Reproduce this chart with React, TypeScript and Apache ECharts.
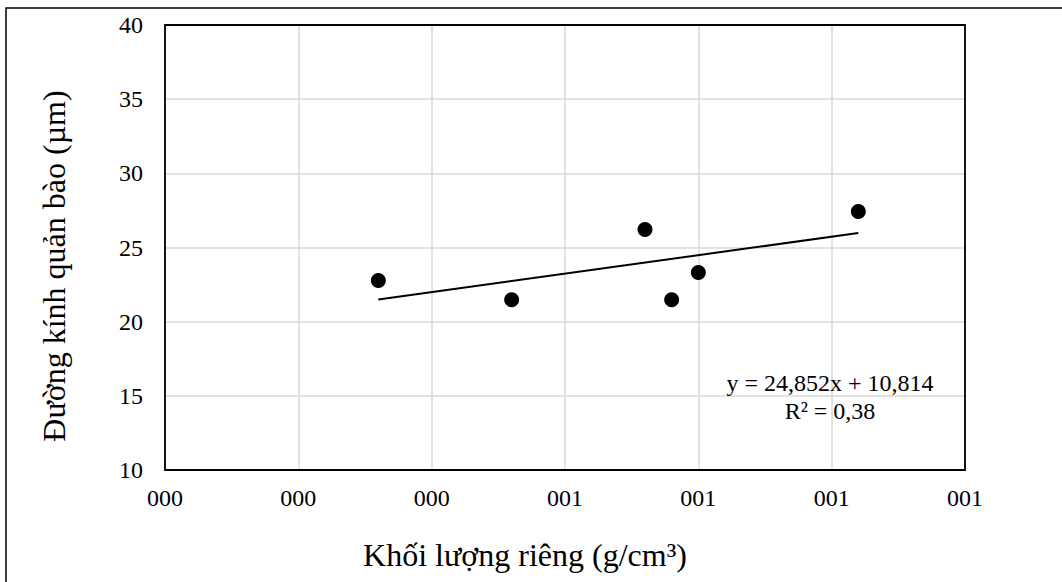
import React, { useEffect, useRef } from "react";
import * as echarts from "echarts";

const densityX = [0.43, 0.48, 0.53, 0.54, 0.55, 0.61];
const diameterY = [22.78, 21.48, 26.21, 21.48, 23.32, 27.42];
const xTickLabels = ["000", "000", "000", "001", "001", "001", "001"];
const yTickValues = [10, 15, 20, 25, 30, 35, 40];
const trendSlope = 24.852;
const trendIntercept = 10.814;
const equationLines = ["y = 24,852x + 10,814", "R² = 0,38"];
const xTitle = "Khối lượng riêng (g/cm³)";
const yTitle = "Đường kính quản bào (µm)";

const X_MIN = 0.35;
const X_MAX = 0.65;
const X_STEP = 0.05;

const FONT = "Liberation Serif, Times New Roman, serif";

export default function App() {
  const ref = useRef<HTMLDivElement>(null);
  useEffect(() => {
    if (!ref.current) return;
    const chart = echarts.init(ref.current, undefined, { renderer: "svg" });
    const points = densityX.map((x, i) => [x, diameterY[i]]);
    const xLo = Math.min(...densityX);
    const xHi = Math.max(...densityX);
    const trend = [
      [xLo, trendSlope * xLo + trendIntercept],
      [xHi, trendSlope * xHi + trendIntercept],
    ];
    chart.setOption({
      animation: false,
      backgroundColor: "#fff",
      grid: { left: 165, right: 97, top: 25, bottom: 112, show: false },
      xAxis: {
        type: "value",
        min: X_MIN,
        max: X_MAX,
        interval: X_STEP,
        axisLine: { show: false },
        axisTick: { show: false },
        axisLabel: {
          margin: 16,
          fontFamily: FONT,
          fontSize: 24,
          color: "#000",
          formatter: (v: number) => xTickLabels[Math.round((v - X_MIN) / X_STEP)] ?? "",
        },
        splitLine: { show: true, lineStyle: { color: "#d9d9d9", width: 1.5 } },
      },
      yAxis: {
        type: "value",
        min: yTickValues[0],
        max: yTickValues[yTickValues.length - 1],
        interval: 5,
        axisLine: { show: false },
        axisTick: { show: false },
        axisLabel: {
          margin: 22,
          fontFamily: FONT,
          fontSize: 24,
          color: "#000",
        },
        splitLine: { show: true, lineStyle: { color: "#d9d9d9", width: 1.5 } },
      },
      series: [
        {
          type: "line",
          data: trend,
          symbol: "none",
          lineStyle: { color: "#000", width: 2 },
          z: 2,
        },
        {
          type: "scatter",
          data: points,
          symbol: "circle",
          symbolSize: 15,
          itemStyle: { color: "#000", opacity: 1 },
          z: 3,
        },
      ],
      graphic: [
        {
          type: "rect",
          shape: { x: 6, y: 8, width: 1100, height: 620 },
          style: { fill: "none", stroke: "#000", lineWidth: 1.5 },
          z: 100,
        },
        {
          type: "rect",
          shape: { x: 165, y: 25, width: 800, height: 445 },
          style: { fill: "none", stroke: "#000", lineWidth: 1.8 },
          z: 100,
        },
        {
          type: "text",
          x: 830,
          y: 383,
          style: {
            text: equationLines[0],
            fontFamily: FONT,
            fontSize: 24,
            fill: "#000",
            align: "center",
            verticalAlign: "middle",
          },
          z: 100,
        },
        {
          type: "text",
          x: 830,
          y: 411,
          style: {
            text: equationLines[1],
            fontFamily: FONT,
            fontSize: 24,
            fill: "#000",
            align: "center",
            verticalAlign: "middle",
          },
          z: 100,
        },
        {
          type: "text",
          x: 525,
          y: 555,
          style: {
            text: xTitle,
            fontFamily: FONT,
            fontSize: 32,
            fill: "#000",
            align: "center",
            verticalAlign: "middle",
          },
          z: 100,
        },
        {
          type: "text",
          x: 54,
          y: 266,
          rotation: Math.PI / 2,
          style: {
            text: yTitle,
            fontFamily: FONT,
            fontSize: 32,
            fill: "#000",
            align: "center",
            verticalAlign: "middle",
          },
          z: 100,
        },
      ],
    });
    return () => chart.dispose();
  }, []);
  return (
    <div
      ref={ref}
      style={{ position: "absolute", left: 0, top: 0, width: 1062, height: 582 }}
    />
  );
}
